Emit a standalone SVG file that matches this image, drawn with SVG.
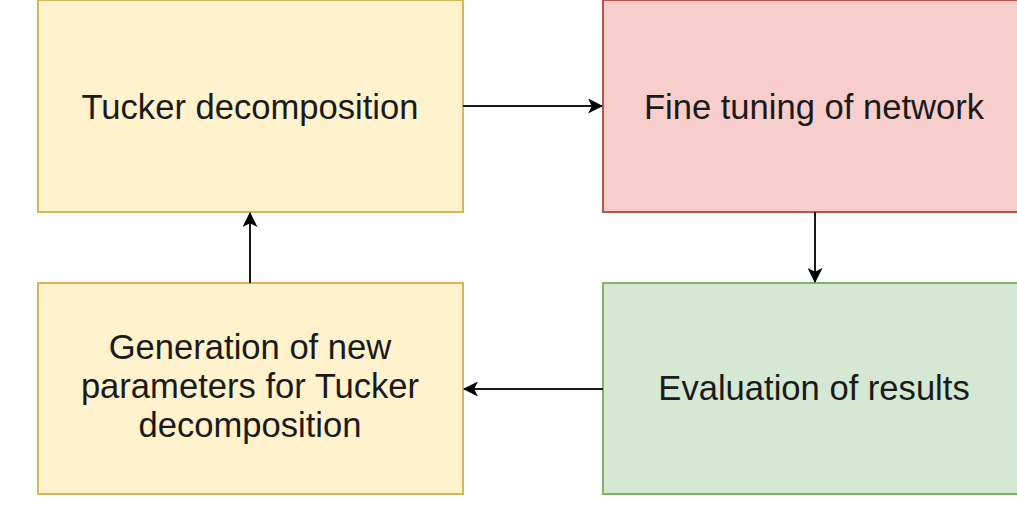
<svg xmlns="http://www.w3.org/2000/svg" width="1017" height="510" viewBox="0 0 1017 510">
<defs>
<style>
.lbl{font-family:"Liberation Sans",Arial,sans-serif;font-size:34.6px;fill:#1a1a1a;text-anchor:middle}
.y{fill:#fff2cc;stroke:#d6b656;stroke-width:2}
.r{fill:#f8cecc;stroke:#b85450;stroke-width:2}
.g{fill:#d5e8d4;stroke:#82b366;stroke-width:2}
.c{stroke:#1a1a1a;stroke-width:2;fill:none;marker-end:url(#ah)}
</style>
<marker id="ah" viewBox="0 0 14 14" refX="13" refY="7" markerWidth="15" markerHeight="15" markerUnits="userSpaceOnUse" orient="auto">
<path d="M0,0 L14,7 L0,14 L3.5,7 Z" fill="#000"/>
</marker>
</defs>
<rect width="1017" height="510" fill="#fff"/>
<g id="tucker">
<rect class="y" x="38" y="0" width="425" height="212"/>
<text class="lbl" x="250" y="119">Tucker decomposition</text>
</g>
<g id="finetune">
<rect class="r" x="603" y="0" width="427" height="212"/>
<text class="lbl" x="814" y="119">Fine tuning of network</text>
</g>
<g id="generation">
<rect class="y" x="38" y="283" width="425" height="211"/>
<text class="lbl" x="250" y="359">Generation of new</text>
<text class="lbl" x="250" y="398">parameters for Tucker</text>
<text class="lbl" x="250" y="437">decomposition</text>
</g>
<g id="evaluation">
<rect class="g" x="603" y="283" width="427" height="211"/>
<text class="lbl" x="814" y="400">Evaluation of results</text>
</g>
<g id="connectors">
<line class="c" x1="463" y1="106" x2="602" y2="106"/>
<line class="c" x1="815" y1="212" x2="815" y2="282"/>
<line class="c" x1="603" y1="389" x2="464" y2="389"/>
<line class="c" x1="250" y1="283" x2="250" y2="213"/>
</g>
</svg>
